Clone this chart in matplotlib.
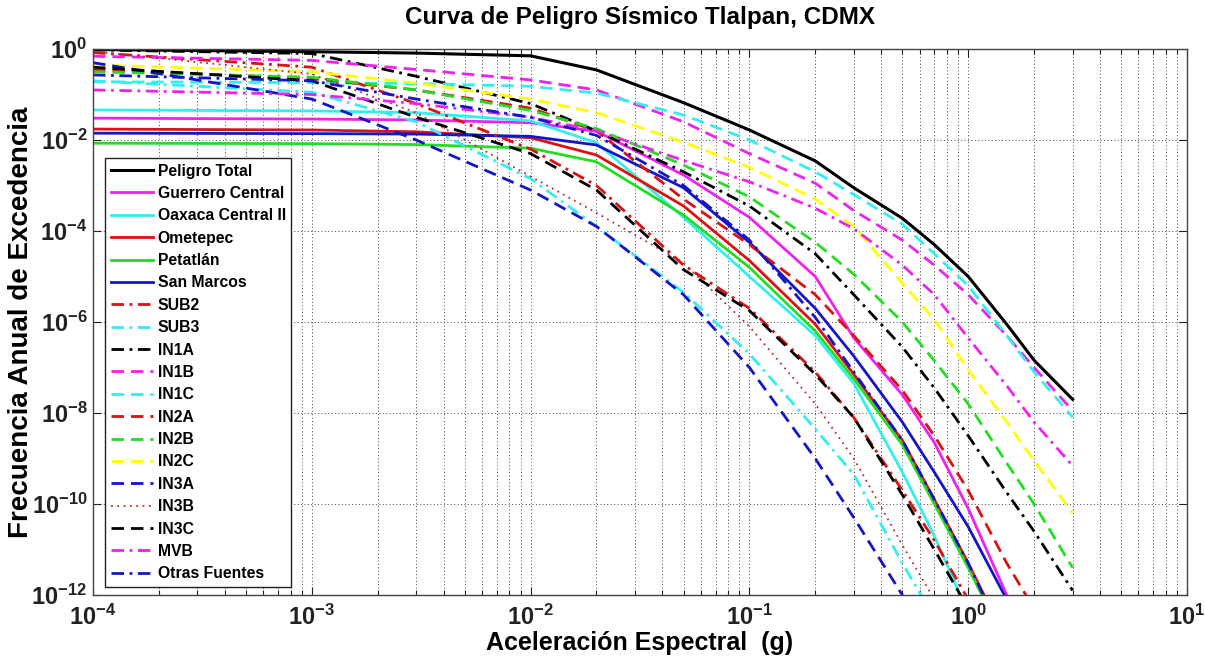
import numpy as np
import matplotlib
matplotlib.use("Agg")
import matplotlib.pyplot as plt
from matplotlib.ticker import FixedLocator, FuncFormatter, NullLocator, NullFormatter

plt.rcParams['font.family'] = ['Liberation Sans', 'DejaVu Sans']
plt.rcParams['mathtext.fontset'] = 'custom'
plt.rcParams['mathtext.rm'] = 'Liberation Sans'
plt.rcParams['mathtext.bf'] = 'Liberation Sans:bold'

# Aceleración espectral (g) en la que se leyeron las curvas
accel = [1e-4, 1e-3, 3e-3, 1e-2, 2e-2, 5e-2, 0.1, 0.2, 0.3, 0.5, 0.7, 1.0, 1.5, 2.0, 3.0]

# log10 de la frecuencia anual de excedencia
peligro_total = [-0.01, -0.06, -0.09, -0.15, -0.46, -1.18, -1.78, -2.46, -3.05, -3.72, -4.3, -5.0, -6.05, -6.84, -7.7]
guerrero_central = [-1.52, -1.54, -1.56, -1.62, -1.81, -2.77, -3.7, -5.0, -6.35, -7.6, -8.65, -10.1, -12.0, -13.3, -15.0]
oaxaca_central = [-1.34, -1.36, -1.40, -1.58, -2.06, -3.7, -5.0, -6.3, -7.35, -9.3, -10.7, -12.4, -14.5, -16.0, -17.0]
ometepec = [-1.76, -1.78, -1.82, -1.95, -2.33, -3.45, -4.65, -6.05, -7.15, -8.6, -9.9, -11.3, -13.0, -14.3, -16.0]
petatlan = [-2.07, -2.08, -2.10, -2.18, -2.48, -3.65, -4.8, -6.2, -7.25, -8.7, -10.0, -11.4, -13.1, -14.5, -16.0]
san_marcos = [-1.85, -1.86, -1.87, -1.92, -2.11, -3.05, -4.25, -5.7, -6.75, -8.2, -9.3, -10.5, -12.1, -13.3, -15.0]
sub2 = [-0.08, -0.4, -1.2, -2.2, -3.0, -4.75, -5.7, -7.1, -8.1, -9.7, -10.8, -12.1, -13.8, -15.0, -16.5]
sub3 = [-0.7, -0.95, -1.6, -2.85, -3.9, -5.35, -6.7, -8.35, -9.35, -11.3, -12.5, -14.0, -16.0, -17.0, -18.0]
in1a = [-0.02, -0.1, -0.6, -1.2, -1.8, -2.7, -3.45, -4.5, -5.4, -6.55, -7.45, -8.5, -9.75, -10.6, -11.9]
in1b = [-0.16, -0.25, -0.45, -0.68, -0.9, -1.6, -2.3, -2.95, -3.55, -4.2, -4.75, -5.4, -6.3, -7.0, -7.95]
in1c = [-0.72, -0.74, -0.76, -0.82, -0.97, -1.45, -2.0, -2.7, -3.2, -3.85, -4.5, -5.2, -6.3, -7.1, -8.09]
in2a = [-0.45, -0.65, -0.9, -1.3, -1.8, -3.3, -4.3, -5.4, -6.3, -7.5, -8.5, -9.7, -11.3, -12.3, -14.0]
in2b = [-0.5, -0.62, -0.9, -1.35, -1.75, -2.55, -3.25, -4.25, -4.95, -6.0, -6.85, -7.8, -9.1, -10.0, -11.4]
in2c = [-0.35, -0.5, -0.75, -1.1, -1.4, -2.05, -2.6, -3.3, -3.9, -5.15, -5.95, -7.05, -8.2, -9.05, -10.2]
in3a = [-0.3, -1.1, -2.0, -3.1, -3.9, -5.4, -7.0, -9.0, -10.3, -12.0, -13.3, -14.5, -16.0, -17.0, -18.0]
in3b = [-0.05, -0.55, -1.4, -2.8, -3.6, -4.7, -6.1, -7.8, -9.0, -10.9, -12.1, -13.4, -15.0, -16.0, -17.0]
in3c = [-0.4, -0.7, -1.5, -2.3, -3.1, -4.85, -5.75, -7.15, -8.1, -9.8, -11.0, -12.3, -14.0, -15.0, -16.5]
mvb = [-0.9, -1.0, -1.2, -1.5, -1.8, -2.45, -2.92, -3.5, -3.95, -4.75, -5.4, -6.35, -7.4, -8.2, -9.16]
otras_fuentes = [-0.57, -0.7, -1.1, -1.5, -1.9, -3.0, -4.2, -5.9, -7.1, -8.6, -9.9, -11.3, -13.1, -14.5, -16.0]

labels = ['Peligro Total', 'Guerrero Central', 'Oaxaca Central II', 'Ometepec', 'Petatlán',
          'San Marcos', 'SUB2', 'SUB3', 'IN1A', 'IN1B', 'IN1C', 'IN2A', 'IN2B', 'IN2C',
          'IN3A', 'IN3B', 'IN3C', 'MVB', 'Otras Fuentes']
series = [peligro_total, guerrero_central, oaxaca_central, ometepec, petatlan, san_marcos,
          sub2, sub3, in1a, in1b, in1c, in2a, in2b, in2c, in3a, in3b, in3c, mvb, otras_fuentes]

# colores y estilos tipo MATLAB
K, M, C, R, G, B, Y = '#000000', '#EE22EE', '#33EEEE', '#DD1111', '#22DD22', '#1414C8', '#FFFF00'
DASH = (0, (4.5, 2.5))
DASHDOT = (0, (4.5, 2, 1, 2))
styles = [
    (K, '-', 2.2), (M, '-', 2.0), (C, '-', 2.0), (R, '-', 2.0), (G, '-', 2.0), (B, '-', 2.0),
    (R, DASHDOT, 2.0), (C, DASHDOT, 2.0), (K, DASHDOT, 2.0),
    (M, DASH, 2.0), (C, DASH, 2.0), (R, DASH, 2.0), (G, DASH, 2.0), (Y, DASH, 2.0),
    (B, DASH, 2.0), ('#B03030', (0, (1, 2.5)), 1.3), (K, DASH, 2.0),
    (M, DASHDOT, 2.0), (B, DASHDOT, 2.0),
]

fig = plt.figure(figsize=(12.05, 6.6), dpi=100)
ax = fig.add_axes([93 / 1205, 65 / 660, 1094 / 1205, 546 / 660])

x = np.array(accel)
for lab, vals, (col, ls, lw) in zip(labels, series, styles):
    ax.loglog(x, 10.0 ** np.array(vals), color=col, linestyle=ls, linewidth=lw, label=lab)

ax.set_xlim(1e-4, 1e1)
ax.set_ylim(1e-12, 1e0)

fmt = FuncFormatter(lambda v, p: r'$\mathbf{10^{%d}}$' % int(round(np.log10(v))))
ax.xaxis.set_major_locator(FixedLocator([10.0 ** k for k in range(-4, 2)]))
ax.xaxis.set_minor_locator(FixedLocator([m * 10.0 ** k for k in range(-4, 1) for m in range(2, 10)]))
ax.xaxis.set_major_formatter(fmt)
ax.xaxis.set_minor_formatter(NullFormatter())
ax.yaxis.set_major_locator(FixedLocator([10.0 ** k for k in range(-12, 1, 2)]))
ax.yaxis.set_minor_locator(NullLocator())
ax.yaxis.set_major_formatter(fmt)

ax.tick_params(which='both', direction='in', top=True, right=True, labelsize=17, colors='#222222')
ax.tick_params(which='major', length=6, width=0.8)
ax.tick_params(which='minor', length=3.5, width=0.8)
ax.tick_params(axis='x', pad=7)
ax.tick_params(axis='y', pad=4)

ax.grid(True, which='major', linestyle=(0, (1, 2.5)), color='#444444', linewidth=0.7)
ax.xaxis.grid(True, which='minor', linestyle=(0, (1, 2.5)), color='#444444', linewidth=0.7)
for sp in ax.spines.values():
    sp.set_color('#444444')
    sp.set_linewidth(1.0)

ax.set_title('Curva de Peligro Sísmico Tlalpan, CDMX', fontsize=17.5, fontweight='bold', pad=18)
ax.set_xlabel('Aceleración Espectral  (g)', fontsize=18, fontweight='bold', labelpad=1)
ax.set_ylabel('Frecuencia Anual de Excedencia', fontsize=20, fontweight='bold')
ax.yaxis.set_label_coords(-0.054, 0.5)

leg = ax.legend(loc='lower left', bbox_to_anchor=(0.011, 0.015), borderaxespad=0,
                prop={'weight': 'bold', 'size': 11.3}, frameon=True, fancybox=False,
                handlelength=2.7, handletextpad=0.3, labelspacing=0.47, borderpad=0.35)
leg.get_frame().set_edgecolor('#222222')
leg.get_frame().set_linewidth(1.0)
leg.get_frame().set_alpha(1.0)

fig.savefig('out.png', dpi=100)
